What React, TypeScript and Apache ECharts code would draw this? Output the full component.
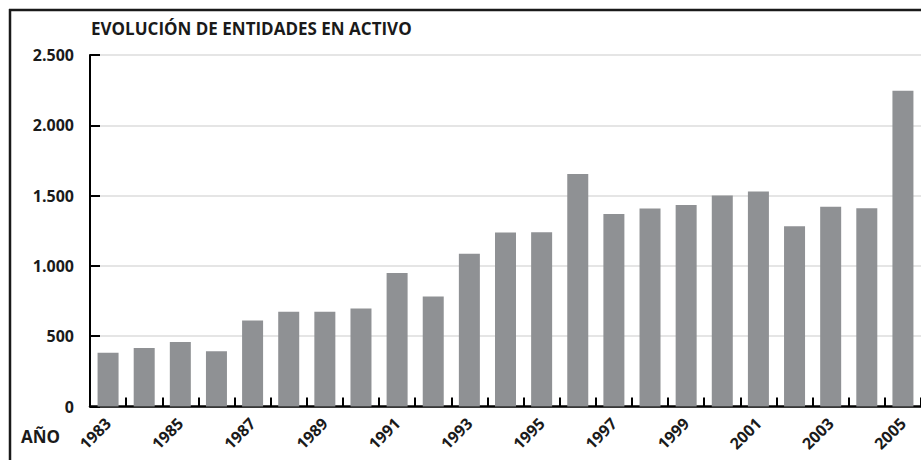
import React, { useEffect, useRef } from "react";
import * as echarts from "echarts";

const years = [
  "1983", "1984", "1985", "1986", "1987", "1988", "1989", "1990", "1991", "1992",
  "1993", "1994", "1995", "1996", "1997", "1998", "1999", "2000", "2001", "2002",
  "2003", "2004", "2005",
];
const entidades = [
  382, 416, 458, 393, 612, 674, 674, 697, 950, 782,
  1087, 1237, 1240, 1654, 1370, 1408, 1434, 1500, 1529, 1282,
  1420, 1410, 2246,
];
const title = "EVOLUCIÓN DE ENTIDADES EN ACTIVO";
const xName = "AÑO";

const FONT = "'Open Sans', 'DejaVu Sans', sans-serif";

export default function App() {
  const ref = useRef<HTMLDivElement>(null);
  useEffect(() => {
    document.body.style.margin = "0";
    const chart = echarts.init(ref.current!, null, { renderer: "svg" });
    chart.setOption({
      animation: false,
      grid: { left: 90, top: 55, bottom: 53.5, right: 0 },
      xAxis: {
        type: "category",
        data: years,
        axisLine: { show: true, lineStyle: { color: "#000", width: 2.5 } },
        axisTick: {
          show: true,
          inside: true,
          length: 9,
          interval: 0,
          lineStyle: { color: "#000", width: 2 },
        },
        axisLabel: {
          interval: 1,
          rotate: 45,
          margin: 14,
          color: "#1a1a1a",
          fontFamily: FONT,
          fontWeight: "bold",
          fontSize: 16,
        },
      },
      yAxis: {
        type: "value",
        min: 0,
        max: 2500,
        interval: 500,
        axisLine: { show: true, lineStyle: { color: "#000", width: 2 } },
        axisTick: {
          show: true,
          inside: true,
          length: 10,
          lineStyle: { color: "#000", width: 2 },
        },
        axisLabel: {
          margin: 16,
          color: "#1a1a1a",
          fontFamily: FONT,
          fontWeight: "bold",
          fontSize: 16,
          formatter: (v: number) =>
            v.toLocaleString("en-US").replace(/,/g, "."),
        },
        splitLine: { show: true, lineStyle: { color: "#dcdcdc", width: 1.5 } },
      },
      series: [
        {
          type: "bar",
          data: entidades,
          barWidth: 21,
          itemStyle: { color: "#8f9194" },
        },
      ],
      graphic: [
        {
          type: "line",
          shape: { x1: 9, y1: 10, x2: 921, y2: 10 },
          style: { stroke: "#1a1a1a", lineWidth: 2.5 },
        },
        {
          type: "line",
          shape: { x1: 10, y1: 9, x2: 10, y2: 460 },
          style: { stroke: "#1a1a1a", lineWidth: 2.5 },
        },
        {
          type: "text",
          left: 91,
          top: 20,
          style: {
            text: title,
            fill: "#1a1a1a",
            font: `bold 17px ${FONT}`,
          },
        },
        {
          type: "text",
          left: 21,
          top: 428,
          style: {
            text: xName,
            fill: "#1a1a1a",
            font: `bold 17px ${FONT}`,
          },
        },
      ],
    });
    return () => chart.dispose();
  }, []);
  return <div ref={ref} style={{ width: 921, height: 460 }} />;
}
